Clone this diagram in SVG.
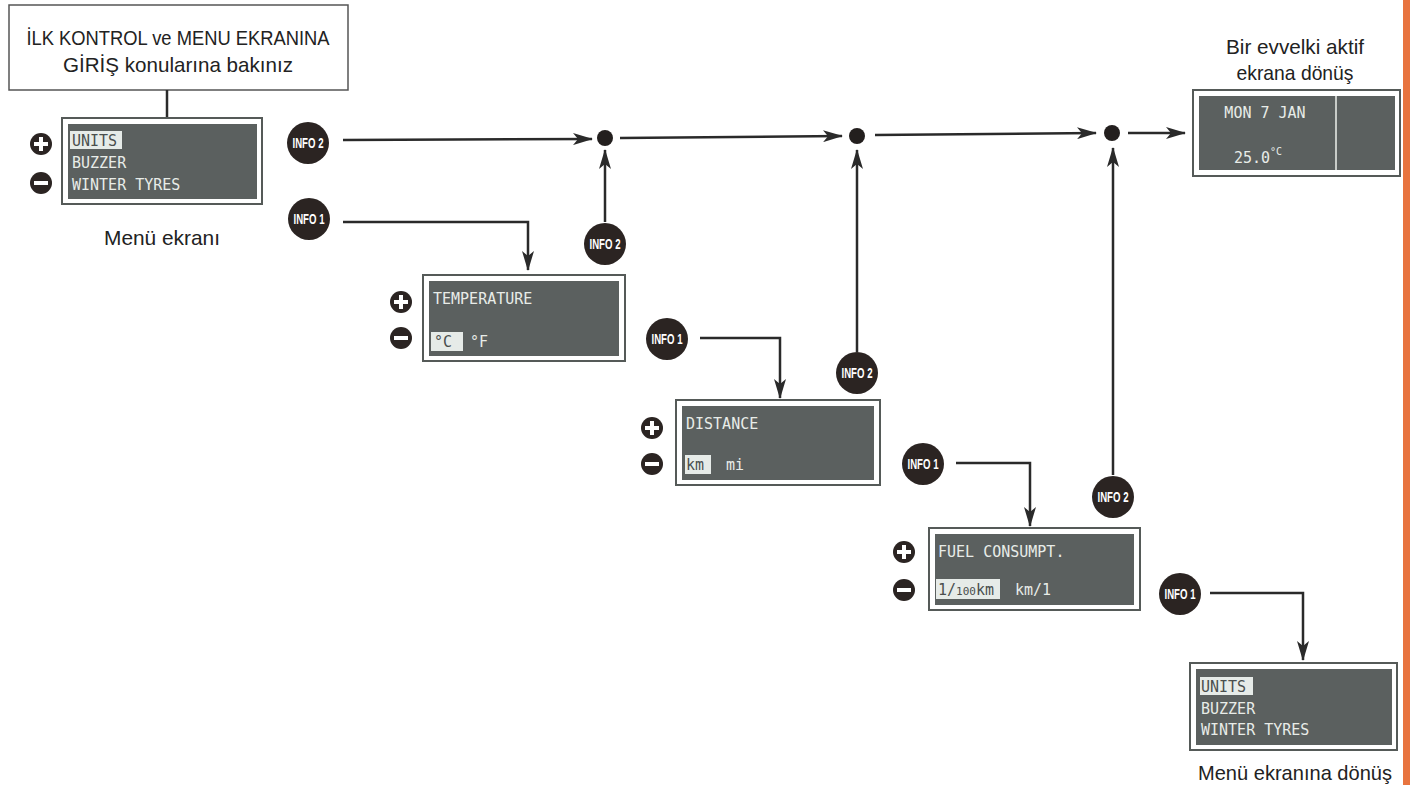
<svg xmlns="http://www.w3.org/2000/svg" width="1410" height="785" viewBox="0 0 1410 785">
<defs>
<style>
.frame{fill:#ffffff;stroke:#555a58;stroke-width:2}
.lcd{fill:#5b605f}
.lt{font-family:"DejaVu Sans Mono","Liberation Mono",monospace;font-size:15px;fill:#e8ece8}
.ltd{font-family:"DejaVu Sans Mono","Liberation Mono",monospace;font-size:15px;fill:#4a4f4e}
.hl{fill:#e6ebe8}
.cap{font-family:"Liberation Sans",Arial,sans-serif;font-size:21px;fill:#222;text-anchor:middle}
.badge circle{fill:#2b2422}
.badge text{font-family:"Liberation Sans",Arial,sans-serif;font-weight:bold;font-size:14px;fill:#fff;text-anchor:middle}
.ln{fill:none;stroke:#2a2a2a;stroke-width:2.5}
.dot{fill:#231f1e}
.pm circle{fill:#2b2422}
.pm path{stroke:#fff;stroke-width:4;fill:none}
</style>
<marker id="ah" viewBox="0 0 20 12" refX="19" refY="6" markerWidth="20" markerHeight="12" markerUnits="userSpaceOnUse" orient="auto">
<path d="M0,0 L20,6 L0,12 L5,6 Z" fill="#2a2a2a"/>
</marker>
</defs>
<rect width="1410" height="785" fill="#ffffff"/>
<rect x="1403" y="0" width="7" height="785" fill="#e8743f"/>

<g id="intro">
<rect x="9" y="5" width="339" height="85" fill="#fff" stroke="#555" stroke-width="1.5"/>
<text class="cap" x="178" y="45" font-size="24" textLength="303" lengthAdjust="spacingAndGlyphs">İLK KONTROL ve MENU EKRANINA</text>
<text class="cap" x="178" y="72" font-size="24" textLength="230" lengthAdjust="spacingAndGlyphs">GİRİŞ konularına bakınız</text>
</g>

<g id="connectors">
<line class="ln" x1="167" y1="90" x2="167" y2="118"/>
<line class="ln" x1="343" y1="140" x2="592" y2="139" marker-end="url(#ah)"/>
<line class="ln" x1="620" y1="138" x2="842" y2="136" marker-end="url(#ah)"/>
<line class="ln" x1="875" y1="135" x2="1096" y2="133" marker-end="url(#ah)"/>
<line class="ln" x1="1128" y1="133" x2="1185" y2="133" marker-end="url(#ah)"/>
<polyline class="ln" points="343,222 528,222 528,270" marker-end="url(#ah)"/>
<line class="ln" x1="605" y1="222" x2="605" y2="150" marker-end="url(#ah)"/>
<polyline class="ln" points="700,338 780,338 780,398" marker-end="url(#ah)"/>
<line class="ln" x1="857" y1="352" x2="857" y2="150" marker-end="url(#ah)"/>
<polyline class="ln" points="956,463 1030,463 1030,526" marker-end="url(#ah)"/>
<line class="ln" x1="1113" y1="475" x2="1113" y2="148" marker-end="url(#ah)"/>
<polyline class="ln" points="1210,593 1303,593 1303,660" marker-end="url(#ah)"/>
<circle class="dot" cx="605" cy="138" r="8"/>
<circle class="dot" cx="857" cy="136" r="8"/>
<circle class="dot" cx="1112" cy="133" r="8"/>
</g>

<g id="menu1">
<rect class="frame" x="62" y="118" width="200" height="86"/>
<rect class="lcd" x="68" y="124" width="189" height="75"/>
<rect class="hl" x="70" y="131" width="52" height="18"/>
<text class="ltd" x="72" y="146">UNITS</text>
<text class="lt" x="72" y="168">BUZZER</text>
<text class="lt" x="72" y="190">WINTER TYRES</text>
<g class="pm"><circle cx="41" cy="144" r="11"/><path d="M34,144 H48 M41,137 V151"/></g>
<g class="pm"><circle cx="41" cy="183" r="11"/><path d="M34,183 H48"/></g>
<text class="cap" x="162" y="245" font-size="23" textLength="116" lengthAdjust="spacingAndGlyphs">Menü ekranı</text>
</g>

<g id="info2a" class="badge"><circle cx="308" cy="143" r="21"/><text x="308" y="148" textLength="31" lengthAdjust="spacingAndGlyphs">INFO 2</text></g>
<g id="info1a" class="badge"><circle cx="309" cy="219" r="21"/><text x="309" y="224" textLength="31" lengthAdjust="spacingAndGlyphs">INFO 1</text></g>
<g id="info2b" class="badge"><circle cx="605" cy="244" r="21"/><text x="605" y="249" textLength="31" lengthAdjust="spacingAndGlyphs">INFO 2</text></g>
<g id="info1b" class="badge"><circle cx="667" cy="339" r="21"/><text x="667" y="344" textLength="31" lengthAdjust="spacingAndGlyphs">INFO 1</text></g>
<g id="info2c" class="badge"><circle cx="857" cy="373" r="21"/><text x="857" y="378" textLength="31" lengthAdjust="spacingAndGlyphs">INFO 2</text></g>
<g id="info1c" class="badge"><circle cx="923" cy="464" r="21"/><text x="923" y="469" textLength="31" lengthAdjust="spacingAndGlyphs">INFO 1</text></g>
<g id="info2d" class="badge"><circle cx="1113" cy="497" r="21"/><text x="1113" y="502" textLength="31" lengthAdjust="spacingAndGlyphs">INFO 2</text></g>
<g id="info1d" class="badge"><circle cx="1180" cy="594" r="21"/><text x="1180" y="599" textLength="31" lengthAdjust="spacingAndGlyphs">INFO 1</text></g>

<g id="temperature">
<rect class="frame" x="423" y="275" width="202" height="86"/>
<rect class="lcd" x="429" y="281" width="190" height="75"/>
<text class="lt" x="433" y="304">TEMPERATURE</text>
<rect class="hl" x="431" y="332" width="32" height="19"/>
<text class="ltd" x="434" y="347">°C</text>
<text class="lt" x="470" y="347">°F</text>
<g class="pm"><circle cx="401" cy="302" r="11"/><path d="M394,302 H408 M401,295 V309"/></g>
<g class="pm"><circle cx="401" cy="338" r="11"/><path d="M394,338 H408"/></g>
</g>

<g id="distance">
<rect class="frame" x="676" y="400" width="204" height="85"/>
<rect class="lcd" x="682" y="406" width="192" height="74"/>
<text class="lt" x="686" y="429">DISTANCE</text>
<rect class="hl" x="685" y="455" width="26" height="19"/>
<text class="ltd" x="686" y="470">km</text>
<text class="lt" x="726" y="470">mi</text>
<g class="pm"><circle cx="652" cy="428" r="11"/><path d="M645,428 H659 M652,421 V435"/></g>
<g class="pm"><circle cx="652" cy="464" r="11"/><path d="M645,464 H659"/></g>
</g>

<g id="fuel">
<rect class="frame" x="929" y="528" width="211" height="82"/>
<rect class="lcd" x="935" y="534" width="199" height="71"/>
<text class="lt" x="938" y="557">FUEL CONSUMPT.</text>
<rect class="hl" x="936" y="579" width="64" height="20"/>
<text class="ltd" x="938" y="595">1/<tspan font-size="11">100</tspan>km</text>
<text class="lt" x="1015" y="595">km/1</text>
<g class="pm"><circle cx="904" cy="552" r="11"/><path d="M897,552 H911 M904,545 V559"/></g>
<g class="pm"><circle cx="904" cy="590" r="11"/><path d="M897,590 H911"/></g>
</g>

<g id="previous">
<text class="cap" x="1295" y="54" font-size="23" textLength="138" lengthAdjust="spacingAndGlyphs">Bir evvelki aktif</text>
<text class="cap" x="1295" y="80" font-size="23" textLength="117" lengthAdjust="spacingAndGlyphs">ekrana dönüş</text>
<rect class="frame" x="1193" y="90" width="207" height="86"/>
<rect class="lcd" x="1199" y="96" width="196" height="74"/>
<line x1="1336" y1="96" x2="1336" y2="170" stroke="#c8ccc8" stroke-width="2"/>
<text class="lt" x="1265" y="118" text-anchor="middle">MON 7 JAN</text>
<text class="lt" x="1258" y="163" text-anchor="middle" font-size="16">25.0<tspan font-size="10" dy="-8">°C</tspan></text>
</g>

<g id="menu2">
<rect class="frame" x="1190" y="663" width="207" height="87"/>
<rect class="lcd" x="1196" y="669" width="196" height="76"/>
<rect class="hl" x="1200" y="677" width="53" height="18"/>
<text class="ltd" x="1201" y="692">UNITS</text>
<text class="lt" x="1201" y="714">BUZZER</text>
<text class="lt" x="1201" y="735">WINTER TYRES</text>
<text class="cap" x="1295" y="780" font-size="23" textLength="194" lengthAdjust="spacingAndGlyphs">Menü ekranına dönüş</text>
</g>
</svg>
